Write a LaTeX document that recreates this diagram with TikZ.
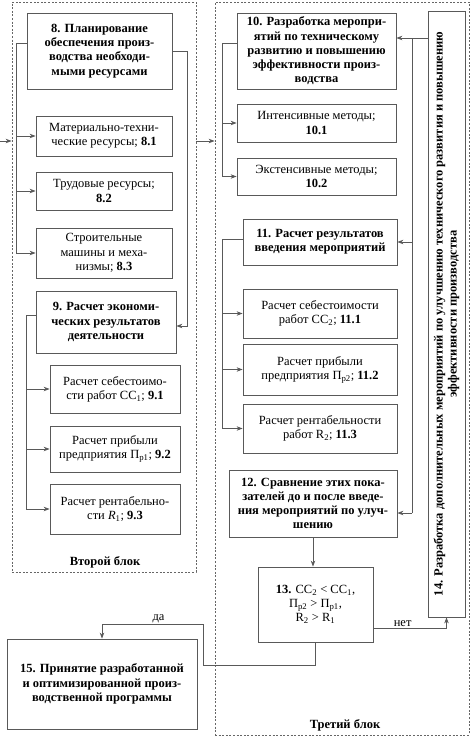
\documentclass[tikz,border=0pt]{standalone}
\usepackage{fontspec}
\setmainfont{Liberation Serif}
\usetikzlibrary{arrows.meta}

\begin{document}
\begin{tikzpicture}[x=1pt,y=-1pt,
  box/.style={draw=black!65,line width=0.8pt,align=center,inner sep=2pt,font=\fontsize{12.5}{14.2}\selectfont},
  head/.style={box,font=\fontsize{12.5}{14.2}\selectfont\bfseries},
  blk/.style={draw=black!60,line width=0.8pt,dash pattern=on 2pt off 1.6pt,inner sep=0pt},
  wire/.style={draw=black!65,line width=0.8pt},
  conn/.style={wire,-{Stealth[length=6pt,width=4.5pt]}},
  lbl/.style={font=\fontsize{12.5}{14.2}\selectfont,inner sep=1pt}]
\useasboundingbox (0,0) rectangle (471,736);
\node[blk,minimum width=184pt,minimum height=570pt] (blk2) at (104,287) {};
\node[blk,minimum width=254pt,minimum height=733pt] (blk3) at (342,368.5) {};
\node[lbl,font=\fontsize{12.5}{14.2}\selectfont\bfseries] (lbl2) at (105,562) {Второй блок};
\node[lbl,font=\fontsize{12.5}{14.2}\selectfont\bfseries] (lbl3) at (345,725) {Третий блок};
\node[head,minimum width=145pt,minimum height=76pt] (b8) at (99.5,51) {8. Планирование\\обеспечения произ-\\водства необходи-\\мыми ресурсами};
\node[box,minimum width=136pt,minimum height=40pt] (b81) at (104,136) {Материально-техни-\\ческие ресурсы; \textbf{8.1}};
\node[box,minimum width=136pt,minimum height=38pt] (b82) at (104,191) {Трудовые ресурсы;\\\textbf{8.2}};
\node[box,minimum width=136pt,minimum height=50pt] (b83) at (104,253) {Строительные\\машины и меха-\\низмы; \textbf{8.3}};
\node[head,minimum width=140pt,minimum height=62pt] (b9) at (106,322) {9. Расчет экономи-\\ческих результатов\\деятельности};
\node[box,minimum width=130pt,minimum height=48pt] (b91) at (115,389) {Расчет себестоимо-\\сти работ СС\textsubscript{1}; \textbf{9.1}};
\node[box,minimum width=130pt,minimum height=46pt] (b92) at (115,449) {Расчет прибыли\\предприятия П\textsubscript{р1}; \textbf{9.2}};
\node[box,minimum width=130pt,minimum height=50pt] (b93) at (115,509) {Расчет рентабельно-\\сти \textit{R}\textsubscript{1}; \textbf{9.3}};
\node[head,minimum width=159pt,minimum height=76pt] (b10) at (316.5,51) {10. Разработка меропри-\\ятий по техническому\\развитию и повышению\\эффективности произ-\\водства};
\node[box,minimum width=159pt,minimum height=38pt] (b101) at (316.5,123) {Интенсивные методы;\\\textbf{10.1}};
\node[box,minimum width=159pt,minimum height=37pt] (b102) at (316.5,176.5) {Экстенсивные методы;\\\textbf{10.2}};
\node[head,minimum width=154pt,minimum height=46pt] (b11) at (320,242) {11. Расчет результатов\\введения мероприятий};
\node[box,minimum width=154pt,minimum height=49pt] (b111) at (320,313.5) {Расчет себестоимости\\работ СС\textsubscript{2}; \textbf{11.1}};
\node[box,minimum width=154pt,minimum height=51pt] (b112) at (320,369.5) {Расчет прибыли\\предприятия П\textsubscript{р2}; \textbf{11.2}};
\node[box,minimum width=154pt,minimum height=49pt] (b113) at (320,428.5) {Расчет рентабельности\\работ R\textsubscript{2}; \textbf{11.3}};
\node[head,minimum width=168pt,minimum height=67pt] (b12) at (313,503.5) {12. Сравнение этих пока-\\зателей до и после введе-\\ния мероприятий по улуч-\\шению};
\node[box,minimum width=115pt,minimum height=75pt] (b13) at (315.5,604.5) {\textbf{13.} СС\textsubscript{2} < СС\textsubscript{1},\\П\textsubscript{р2} > П\textsubscript{р1},\\R\textsubscript{2} > R\textsubscript{1}};
\node[head,rotate=90,minimum width=606pt,minimum height=37pt,inner sep=1pt] (b14) at (446.5,314) {14. Разработка дополнительных мероприятий по улучшению технического развития и повышению\\эффективности производства};
\node[head,minimum width=190pt,minimum height=90pt] (b15) at (102,684) {15. Принятие разработанной\\и оптимизированной произ-\\водственной программы};
\coordinate (in) at (0,141);
\coordinate (bus8) at (16,43);
\coordinate (bus9) at (26,315);
\coordinate (bus10) at (222,43);
\coordinate (bus11) at (222,239);
\coordinate (trunk) at (412,38);
\coordinate (t12) at (412,513);
\coordinate (yes1) at (203,665);
\coordinate (yes2) at (203,624);
\draw[conn] (in) -- (blk2.west |- in);
\draw[conn] (blk2.east |- in) -- (blk3.west |- in);
\draw[wire] (b8.west |- bus8) -- (bus8) -- (bus8 |- b83.west);
\draw[conn] (bus8 |- b81.west) -- (b81.west);
\draw[conn] (bus8 |- b82.west) -- (b82.west);
\draw[conn] (bus8 |- b83.west) -- (b83.west);
\draw[conn] (b8.east) -- ++(15,0) |- ([yshift=-4pt]b9.east);
\draw[wire] (b9.west |- bus9) -- (bus9) -- (bus9 |- b93.west);
\draw[conn] (bus9 |- b91.west) -- (b91.west);
\draw[conn] (bus9 |- b92.west) -- (b92.west);
\draw[conn] (bus9 |- b93.west) -- (b93.west);
\draw[wire] (b10.west |- bus10) -- (bus10) -- (bus10 |- b102.west);
\draw[conn] (bus10 |- b101.west) -- (b101.west);
\draw[conn] (bus10 |- b102.west) -- (b102.west);
\draw[wire] (b11.west |- bus11) -- (bus11) -- (bus11 |- b113.west);
\draw[conn] (bus11 |- b111.west) -- (b111.west);
\draw[conn] (bus11 |- b112.west) -- (b112.west);
\draw[conn] (bus11 |- b113.west) -- (b113.west);
\draw[conn] (b14.north |- trunk) -- (b10.east |- trunk);
\draw[wire] (trunk) -- (t12);
\draw[conn] (trunk |- b11.east) -- (b11.east);
\draw[conn] (t12) -- (b12.east |- t12);
\draw[conn] (b12.south) -- (b12.south |- b13.north);
\draw[conn] ([yshift=-23.5pt]b13.east) -| node[lbl,pos=0.2,above]{нет} (b14.west);
\draw[conn] (b13.south) |- (yes1) -- (yes2) -| node[lbl,pos=0.22,above]{да} (b15.north);
\end{tikzpicture}
\end{document}
